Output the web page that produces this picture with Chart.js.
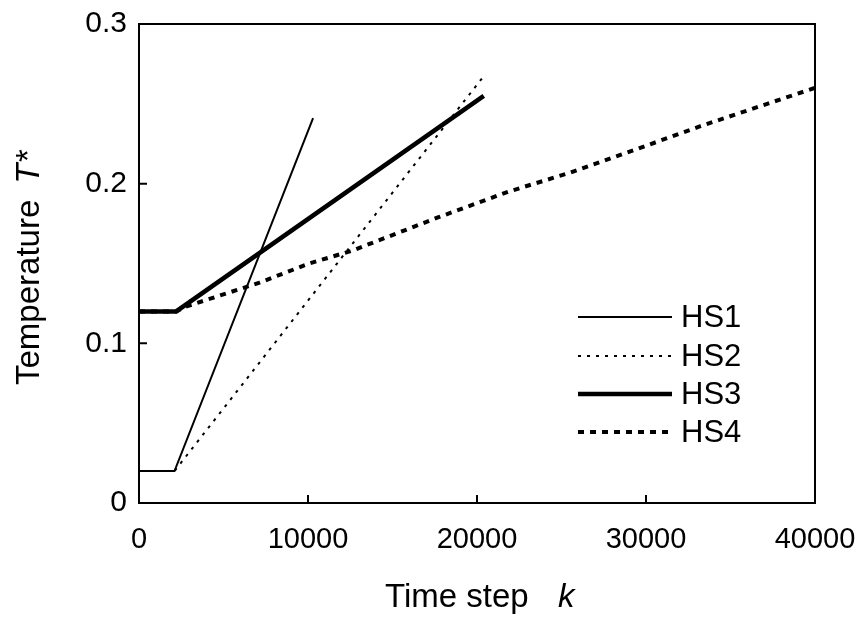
<!DOCTYPE html>
<html>
<head>
<meta charset="utf-8">
<script src="https://cdn.jsdelivr.net/npm/chart.js@4/dist/chart.umd.min.js"></script>
<style>
  html, body { margin: 0; padding: 0; background: #fff; }
</style>
</head>
<body>
<canvas id="myChart" width="856" height="624"></canvas>
<script>
// series: time step k and temperature T*
var hs1K = [0, 2100, 10300];
var hs1T = [0.02, 0.02, 0.241];
var hs2K = [0, 2100, 20300];
var hs2T = [0.02, 0.02, 0.266];
var hs3K = [0, 2200, 20400];
var hs3T = [0.12, 0.12, 0.255];
var hs4K = [0, 2200, 2770, 7130, 10070, 12600, 17730, 21860, 25390, 29280, 33220, 37170, 40000];
var hs4T = [0.12, 0.12, 0.123, 0.138, 0.150, 0.158, 0.179, 0.195, 0.2065, 0.221, 0.236, 0.250, 0.26];

var seriesNames = ['HS1', 'HS2', 'HS3', 'HS4'];
var xTickLabels = ['0', '10000', '20000', '30000', '40000'];
var yTickLabels = ['0', '0.1', '0.2', '0.3'];

var FONT = "'Liberation Sans', Arial, sans-serif";

function pts(ks, ts) {
  return ks.map(function (k, i) { return { x: k, y: ts[i] }; });
}

// line styles per series (thin solid, thin dotted, thick solid, thick dotted)
var styles = [
  { w: 2, dash: [] },
  { w: 2, dash: [3, 6] },
  { w: 4.5, dash: [] },
  { w: 4, dash: [6, 6] }
];

// frame, inner ticks, legend and axis titles
var extrasPlugin = {
  id: 'extras',
  afterDraw: function (chart) {
    var ctx = chart.ctx, a = chart.chartArea;
    var xs = chart.scales.x, ys = chart.scales.y;
    ctx.save();
    ctx.strokeStyle = '#000';
    ctx.fillStyle = '#000';
    ctx.lineWidth = 2;
    ctx.setLineDash([]);
    ctx.strokeRect(a.left, a.top, a.right - a.left, a.bottom - a.top);

    ctx.beginPath();
    [10000, 20000, 30000].forEach(function (v) {
      var px = xs.getPixelForValue(v);
      ctx.moveTo(px, a.bottom);
      ctx.lineTo(px, a.bottom - 8);
    });
    [0.1, 0.2].forEach(function (v) {
      var py = ys.getPixelForValue(v);
      ctx.moveTo(a.left, py);
      ctx.lineTo(a.left + 8, py);
    });
    ctx.stroke();

    // legend inside plot
    var rowY = [317, 356, 394, 432];
    ctx.font = '31px ' + FONT;
    ctx.textBaseline = 'middle';
    ctx.textAlign = 'left';
    seriesNames.forEach(function (name, i) {
      ctx.lineWidth = styles[i].w;
      ctx.setLineDash(styles[i].dash);
      ctx.beginPath();
      ctx.moveTo(578, rowY[i]);
      ctx.lineTo(672, rowY[i]);
      ctx.stroke();
      ctx.fillText(name, 681, rowY[i] + 1);
    });
    ctx.setLineDash([]);

    // x title
    ctx.font = '33px ' + FONT;
    ctx.fillText('Time step', 385, 598);
    ctx.font = 'italic 33px ' + FONT;
    ctx.fillText('k', 558, 598);

    // y title (rotated)
    ctx.translate(30, 385);
    ctx.rotate(-Math.PI / 2);
    ctx.font = '33px ' + FONT;
    ctx.fillText('Temperature', 0, 0);
    var w = ctx.measureText('Temperature').width;
    ctx.font = 'italic 33px ' + FONT;
    ctx.fillText('T*', w + 16, 0);
    ctx.restore();
  }
};

var allK = [hs1K, hs2K, hs3K, hs4K];
var allT = [hs1T, hs2T, hs3T, hs4T];

var chart = new Chart(document.getElementById('myChart').getContext('2d'), {
  type: 'scatter',
  data: {
    datasets: seriesNames.map(function (name, i) {
      return {
        label: name,
        data: pts(allK[i], allT[i]),
        showLine: true,
        borderColor: '#000',
        backgroundColor: '#000',
        borderWidth: styles[i].w,
        borderDash: styles[i].dash,
        pointRadius: 0,
        tension: 0
      };
    })
  },
  options: {
    responsive: false,
    animation: false,
    layout: { padding: { top: 24, right: 41, left: 0, bottom: 0 } },
    plugins: {
      legend: { display: false },
      tooltip: { enabled: false }
    },
    scales: {
      x: {
        type: 'linear',
        min: 0,
        max: 40000,
        afterFit: function (s) {
          s.height = 121;
          s.paddingLeft = 0;
          s.paddingRight = 0;
        },
        grid: { display: false, drawTicks: false },
        border: { display: false },
        ticks: {
          stepSize: 10000,
          padding: 20,
          color: '#000',
          font: { family: FONT, size: 29 },
          maxRotation: 0,
          callback: function (v, i) { return xTickLabels[i]; }
        }
      },
      y: {
        type: 'linear',
        min: 0,
        max: 0.3,
        afterFit: function (s) {
          s.width = 139;
          s.paddingTop = 0;
          s.paddingBottom = 0;
        },
        grid: { display: false, drawTicks: false },
        border: { display: false },
        ticks: {
          stepSize: 0.1,
          padding: 12,
          color: '#000',
          font: { family: FONT, size: 30 },
          callback: function (v, i) { return yTickLabels[i]; }
        }
      }
    }
  },
  plugins: [extrasPlugin]
});
</script>
</body>
</html>
